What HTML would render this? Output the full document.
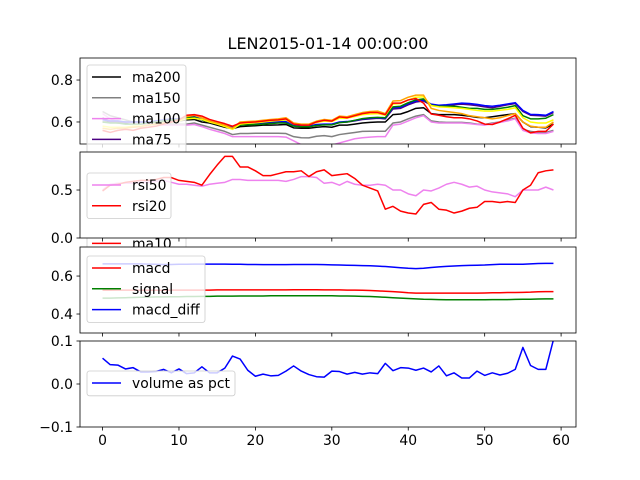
<!DOCTYPE html>
<html><head><meta charset="utf-8"><style>
html,body{margin:0;padding:0;background:#fff}
svg{display:block;font-family:"DejaVu Sans","Liberation Sans",sans-serif}
</style></head><body>
<svg id="fig" width="640" height="480" viewBox="0 0 640 480" xmlns="http://www.w3.org/2000/svg">
<text x="328" y="49" font-size="16" text-anchor="middle">LEN2015-01-14 00:00:00</text>
</svg>
<script>
const xTicks=[0,10,20,30,40,50,60];
const ma200=[0.6,0.6,0.595,0.595,0.6,0.6,0.6,0.6,0.605,0.605,0.605,0.61,0.612,0.6,0.595,0.585,0.575,0.568,0.578,0.58,0.582,0.585,0.585,0.586,0.588,0.572,0.57,0.57,0.575,0.578,0.575,0.585,0.585,0.59,0.595,0.598,0.6,0.6,0.635,0.638,0.65,0.665,0.668,0.64,0.635,0.635,0.635,0.632,0.628,0.622,0.62,0.625,0.63,0.635,0.64,0.6,0.578,0.575,0.572,0.59];
const ma150=[0.65,0.63,0.62,0.61,0.6,0.6,0.6,0.595,0.595,0.59,0.59,0.59,0.595,0.585,0.575,0.565,0.555,0.54,0.545,0.545,0.546,0.546,0.546,0.546,0.545,0.53,0.525,0.524,0.532,0.535,0.53,0.54,0.545,0.55,0.555,0.556,0.556,0.556,0.595,0.6,0.615,0.628,0.635,0.605,0.6,0.598,0.598,0.598,0.595,0.59,0.588,0.595,0.6,0.61,0.618,0.565,0.555,0.55,0.55,0.56];
const ma100=[0.64,0.615,0.6,0.6,0.595,0.59,0.59,0.59,0.585,0.585,0.585,0.585,0.588,0.578,0.565,0.555,0.545,0.53,0.53,0.53,0.53,0.53,0.53,0.53,0.528,0.51,0.492,0.49,0.49,0.49,0.49,0.5,0.51,0.52,0.525,0.528,0.53,0.53,0.585,0.59,0.605,0.62,0.63,0.6,0.595,0.595,0.595,0.595,0.592,0.588,0.585,0.592,0.598,0.605,0.615,0.56,0.548,0.545,0.545,0.555];
const ma75=[0.62,0.6,0.6,0.6,0.6,0.6,0.6,0.605,0.605,0.61,0.61,0.618,0.62,0.61,0.6,0.592,0.582,0.572,0.585,0.59,0.592,0.595,0.598,0.6,0.6,0.582,0.578,0.578,0.585,0.588,0.588,0.598,0.6,0.605,0.612,0.615,0.618,0.615,0.662,0.665,0.682,0.695,0.7,0.68,0.678,0.68,0.682,0.685,0.682,0.678,0.672,0.668,0.675,0.682,0.688,0.65,0.632,0.63,0.628,0.645];
const ma50=[0.61,0.605,0.605,0.6,0.6,0.6,0.6,0.605,0.61,0.615,0.615,0.622,0.625,0.612,0.604,0.595,0.585,0.575,0.588,0.592,0.594,0.597,0.6,0.602,0.602,0.584,0.58,0.58,0.588,0.59,0.59,0.6,0.602,0.607,0.614,0.618,0.62,0.618,0.668,0.67,0.688,0.7,0.705,0.685,0.68,0.682,0.686,0.69,0.688,0.684,0.678,0.675,0.68,0.686,0.692,0.655,0.636,0.635,0.632,0.65];
const ma30=[0.6,0.595,0.595,0.59,0.59,0.59,0.595,0.6,0.605,0.61,0.612,0.62,0.622,0.61,0.6,0.59,0.58,0.57,0.585,0.587,0.588,0.59,0.593,0.595,0.595,0.58,0.577,0.577,0.583,0.586,0.586,0.597,0.6,0.608,0.616,0.62,0.622,0.62,0.672,0.675,0.692,0.705,0.71,0.68,0.675,0.675,0.675,0.67,0.665,0.665,0.66,0.66,0.665,0.67,0.678,0.63,0.615,0.615,0.618,0.635];
const ma20=[0.58,0.575,0.575,0.575,0.58,0.58,0.585,0.59,0.595,0.6,0.605,0.615,0.618,0.612,0.6,0.59,0.578,0.565,0.59,0.594,0.596,0.6,0.604,0.607,0.61,0.59,0.586,0.586,0.598,0.604,0.602,0.618,0.618,0.626,0.635,0.638,0.64,0.632,0.685,0.688,0.705,0.718,0.72,0.678,0.672,0.67,0.668,0.665,0.66,0.655,0.652,0.652,0.656,0.66,0.668,0.62,0.6,0.595,0.595,0.61];
const ma15=[0.57,0.565,0.57,0.57,0.575,0.578,0.585,0.59,0.595,0.6,0.61,0.625,0.632,0.62,0.605,0.595,0.585,0.57,0.6,0.602,0.604,0.608,0.612,0.615,0.62,0.595,0.59,0.59,0.604,0.612,0.608,0.628,0.625,0.635,0.645,0.65,0.652,0.64,0.7,0.702,0.718,0.728,0.728,0.665,0.655,0.65,0.645,0.64,0.63,0.625,0.62,0.615,0.62,0.63,0.64,0.6,0.58,0.575,0.575,0.6];
const ma10=[0.56,0.55,0.56,0.565,0.56,0.57,0.575,0.58,0.59,0.6,0.61,0.632,0.635,0.628,0.612,0.602,0.592,0.58,0.595,0.598,0.6,0.604,0.608,0.61,0.615,0.59,0.585,0.585,0.6,0.608,0.604,0.624,0.62,0.63,0.64,0.645,0.645,0.635,0.69,0.69,0.705,0.712,0.69,0.638,0.632,0.625,0.62,0.62,0.615,0.605,0.59,0.588,0.6,0.615,0.632,0.57,0.548,0.555,0.555,0.59];
const rsi50=[0.5,0.56,0.57,0.57,0.57,0.58,0.58,0.59,0.6,0.58,0.56,0.56,0.55,0.54,0.56,0.57,0.58,0.61,0.61,0.6,0.6,0.6,0.6,0.6,0.59,0.61,0.64,0.64,0.63,0.57,0.58,0.55,0.59,0.56,0.55,0.55,0.56,0.55,0.5,0.5,0.46,0.44,0.5,0.49,0.52,0.56,0.58,0.56,0.53,0.54,0.5,0.48,0.47,0.46,0.43,0.5,0.5,0.5,0.53,0.5];
const rsi20=[0.49,0.55,0.56,0.58,0.59,0.6,0.6,0.61,0.63,0.63,0.6,0.59,0.58,0.55,0.66,0.76,0.85,0.85,0.74,0.74,0.7,0.65,0.65,0.67,0.69,0.69,0.7,0.64,0.69,0.71,0.65,0.66,0.67,0.62,0.55,0.52,0.49,0.3,0.33,0.28,0.26,0.25,0.35,0.37,0.3,0.29,0.26,0.28,0.31,0.32,0.38,0.38,0.37,0.38,0.37,0.5,0.55,0.68,0.7,0.71];
const macd=[0.525,0.525,0.526,0.526,0.526,0.525,0.525,0.525,0.525,0.526,0.526,0.526,0.526,0.526,0.526,0.527,0.527,0.527,0.527,0.527,0.527,0.527,0.527,0.527,0.527,0.528,0.528,0.528,0.528,0.527,0.527,0.527,0.526,0.526,0.525,0.524,0.522,0.52,0.518,0.515,0.512,0.51,0.51,0.51,0.51,0.51,0.51,0.51,0.51,0.51,0.511,0.512,0.512,0.513,0.513,0.514,0.515,0.517,0.518,0.518];
const signal=[0.484,0.484,0.485,0.486,0.487,0.488,0.489,0.49,0.49,0.491,0.491,0.492,0.492,0.493,0.493,0.494,0.494,0.494,0.495,0.495,0.495,0.495,0.496,0.496,0.496,0.496,0.496,0.496,0.496,0.496,0.496,0.495,0.495,0.494,0.493,0.492,0.49,0.488,0.486,0.484,0.482,0.48,0.478,0.477,0.476,0.475,0.475,0.475,0.475,0.475,0.475,0.476,0.476,0.476,0.477,0.478,0.478,0.479,0.48,0.48];
const macdDiff=[0.664,0.664,0.664,0.664,0.664,0.664,0.663,0.662,0.661,0.661,0.662,0.662,0.663,0.663,0.663,0.663,0.663,0.662,0.662,0.661,0.661,0.66,0.66,0.66,0.66,0.661,0.661,0.661,0.661,0.66,0.659,0.658,0.657,0.656,0.655,0.654,0.652,0.65,0.647,0.644,0.641,0.639,0.641,0.645,0.648,0.651,0.653,0.655,0.656,0.657,0.658,0.66,0.662,0.662,0.662,0.662,0.664,0.666,0.667,0.667];
const volPct=[0.06,0.045,0.044,0.035,0.038,0.028,0.028,0.029,0.034,0.026,0.035,0.024,0.026,0.04,0.026,0.026,0.037,0.065,0.058,0.032,0.018,0.023,0.019,0.02,0.03,0.042,0.03,0.022,0.017,0.016,0.03,0.029,0.023,0.027,0.023,0.026,0.024,0.048,0.031,0.038,0.037,0.032,0.037,0.028,0.042,0.019,0.026,0.014,0.014,0.03,0.02,0.026,0.021,0.025,0.034,0.085,0.043,0.034,0.034,0.103];

const NS="http://www.w3.org/2000/svg";
const svg=document.getElementById('fig');
const L=80,R=576;
const xMin=-2.95,xMax=61.95;
function xs(i){return L+(i-xMin)/(xMax-xMin)*(R-L);}
function mk(tag,attrs,parent){const e=document.createElementNS(NS,tag);for(const k in attrs)e.setAttribute(k,attrs[k]);(parent||svg).appendChild(e);return e;}
function fmt(t){return (t<0?'\u2212':'')+Math.abs(t).toFixed(1);}

function panel(cfg){
  const g=mk('g',{});
  
  
  const ys=v=>cfg.bot-(v-cfg.ymin)/(cfg.ymax-cfg.ymin)*(cfg.bot-cfg.top);
  const bg=mk('rect',{x:L,y:cfg.top,width:R-L,height:cfg.bot-cfg.top,fill:'#fff'},g);
  
  
  const cp=mk('clipPath',{id:'clip-'+cfg.name},g);
  mk('rect',{x:L,y:cfg.top,width:R-L,height:cfg.bot-cfg.top},cp);
  const lg=mk('g',{'clip-path':'url(#clip-'+cfg.name+')'},g);
  cfg.series.forEach(s=>{
    const d=s.data.map((v,i)=>(i?'L':'M')+xs(i).toFixed(2)+' '+ys(v).toFixed(2)).join(' ');
    const p=mk('path',{d:d,fill:'none',stroke:s.color,'stroke-width':1.5,'stroke-linejoin':'round'},lg);
    
    
  });
  xTicks.forEach(t=>{
    const x=xs(t);
    const tk=mk('line',{x1:x,x2:x,y1:cfg.bot,y2:cfg.bot+3.5,stroke:'#000','stroke-width':0.8},g);
    
    
    if(cfg.xlabels){
      const tx=mk('text',{x:x,y:cfg.bot+18,'font-size':13.9,'text-anchor':'middle'},g);
      tx.textContent=String(t);
      
      
    }
  });
  cfg.yticks.forEach(t=>{
    const y=ys(t);
    const tk=mk('line',{x1:L-3.5,x2:L,y1:y,y2:y,stroke:'#000','stroke-width':0.8},g);
    
    
    const tx=mk('text',{x:L-7,y:y+5,'font-size':13.9,'text-anchor':'end'},g);
    tx.textContent=fmt(t);
    
    
  });
  const fr=mk('rect',{x:L,y:cfg.top,width:R-L,height:cfg.bot-cfg.top,fill:'none',stroke:'#000','stroke-width':0.8},g);
  
  
  const n=cfg.series.length;
  const lgTop=cfg.legTop, lgW=cfg.legW, lgH=n*20.8+4;
  const leg=mk('g',{},g);
  
  
  mk('rect',{x:87,y:lgTop,width:lgW,height:lgH,rx:2.5,fill:'rgba(255,255,255,0.8)',stroke:'#ccc','stroke-width':0.8},leg);
  cfg.series.forEach((s,k)=>{
    const y=lgTop+12+k*20.8;
    const ln=mk('line',{x1:92,x2:121,y1:y,y2:y,stroke:s.color,'stroke-width':1.5},leg);
    
    
    const tx=mk('text',{x:132,y:y+5,'font-size':13.9},leg);
    tx.textContent=s.label;
    
    
  });
}
panel({name:'moving-average-panel',top:58,bot:144,ymin:0.495,ymax:0.905,yticks:[0.6,0.8],legTop:65,legW:99,
  series:[{label:'ma200',color:'#000',data:ma200},{label:'ma150',color:'gray',data:ma150},{label:'ma100',color:'violet',data:ma100},{label:'ma75',color:'indigo',data:ma75},{label:'ma50',color:'blue',data:ma50},{label:'ma30',color:'green',data:ma30},{label:'ma20',color:'yellow',data:ma20},{label:'ma15',color:'orange',data:ma15},{label:'ma10',color:'red',data:ma10}]});
panel({name:'rsi-panel',top:152,bot:238,ymin:0,ymax:0.896,yticks:[0,0.5],legTop:173,legW:84,
  series:[{label:'rsi50',color:'violet',data:rsi50},{label:'rsi20',color:'red',data:rsi20}]});
panel({name:'macd-panel',top:247,bot:333,ymin:0.3,ymax:0.753,yticks:[0.4,0.6],legTop:256,legW:118,
  series:[{label:'macd',color:'red',data:macd},{label:'signal',color:'green',data:signal},{label:'macd_diff',color:'blue',data:macdDiff}]});
panel({name:'volume-panel',top:341,bot:427,ymin:-0.1,ymax:0.1,yticks:[-0.1,0,0.1],legTop:371,legW:148,xlabels:true,
  series:[{label:'volume as pct',color:'blue',data:volPct}]});
</script>
</body></html>
